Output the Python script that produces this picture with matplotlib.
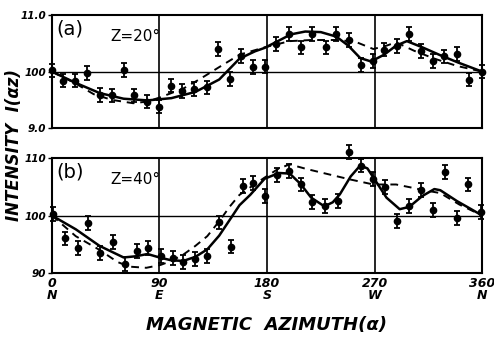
import matplotlib
matplotlib.use("Agg")
import matplotlib.pyplot as plt

# ---------------- data ----------------
# panel (a) Z = 20 deg : measured points
a_az = [0, 9.5, 19, 29.5, 40, 50, 60, 69, 80, 90, 100, 109, 119, 129.5, 139, 149, 158,
        168.5, 178, 187.5, 198.6, 208.4, 218, 229, 238, 249, 259, 269, 278, 288.5, 299,
        308.5, 318.6, 328, 339, 348.8, 359.5]
a_val = [100.2, 98.4, 98.4, 99.8, 95.9, 95.8, 100.3, 95.8, 94.7, 93.8, 97.5, 96.6, 96.9,
         97.2, 104.0, 98.7, 102.8, 100.8, 100.9, 104.9, 106.7, 104.3, 106.7, 104.3, 106.7,
         105.6, 101.2, 101.9, 103.9, 104.5, 106.7, 103.7, 101.9, 102.7, 103.1, 98.6, 100.0]
# panel (a) curves
a_sol_az = [0, 20, 40, 60, 80, 100, 120, 140, 157, 170, 178, 190, 200, 212, 225, 238,
            248, 258, 267, 278, 288, 297, 310, 325, 340, 360]
a_sol_val = [100, 98.0, 96.2, 95.2, 94.9, 95.3, 96.4, 98.6, 102.3, 103.6, 104.2, 105.5,
             106.6, 107.1, 107.0, 106.2, 104.6, 102.4, 101.8, 103.0, 104.6, 105.4, 104.3,
             102.9, 101.6, 100]
a_das_az = [0, 19, 35, 50, 68, 80, 90, 110, 124, 140, 157, 178, 199, 217, 240, 255, 269,
            280, 288, 303, 320, 339, 360]
a_das_val = [100, 98.0, 96.0, 95.0, 94.4, 94.7, 95.4, 97.0, 98.7, 100.8, 103.0, 104.3,
             105.4, 105.6, 105.6, 105.2, 104.0, 104.6, 105.2, 103.7, 102.3, 101.0, 100]

# panel (b) Z = 40 deg : measured points
b_az = [1, 11, 21.5, 30.4, 40, 51, 61, 71, 80.6, 91, 101, 110, 120, 130, 140, 149.6,
        159.6, 168.5, 178, 188.6, 198.6, 208.4, 218, 228.5, 239, 249, 258.5, 268.4, 278.7,
        288.5, 299, 308.6, 319, 329, 338.7, 348.4, 359]
b_val = [100.3, 96.0, 94.4, 98.7, 93.5, 95.4, 91.5, 93.8, 94.3, 92.9, 92.6, 91.9, 92.5,
         92.9, 98.8, 94.6, 105.2, 105.7, 103.4, 107.0, 107.7, 105.4, 102.3, 101.6, 102.5,
         111.0, 108.7, 106.4, 104.9, 99.0, 101.6, 104.5, 100.9, 107.6, 99.6, 105.4, 100.6]
# panel (b) curves
b_sol_az = [0, 20, 40, 60, 70, 80, 90, 100, 110, 120, 130, 140, 149, 157, 166, 178, 190,
            199, 208, 217, 228, 235, 241, 250, 258, 264, 270, 280, 291, 299, 310, 320, 325,
            339, 350, 360]
b_sol_val = [100, 97.6, 94.7, 92.7, 92.9, 93.3, 92.7, 92.2, 92.1, 92.8, 94.1, 96.5, 99.3,
             101.8, 103.6, 106.4, 107.4, 107.3, 105.5, 103.1, 101.6, 102.3, 103.7, 106.8,
             108.7, 108.2, 106.3, 103.1, 101.1, 101.5, 103.4, 104.6, 104.4, 102.5, 101.2, 100]
b_das_az = [0, 20, 40, 55, 65, 79, 91, 100, 110, 120, 130, 140, 149, 157, 166, 178, 190,
            199, 213, 227, 249, 269, 288, 300, 309, 325, 341, 350, 360]
b_das_val = [100, 96.4, 94.0, 91.9, 91.1, 90.9, 91.4, 92.1, 93.2, 94.7, 96.4, 99.0, 101.6,
             103.6, 104.9, 106.6, 108.2, 108.9, 108.1, 107.4, 106.3, 105.4, 105.4, 104.9,
             104.5, 103.9, 101.9, 101.0, 100]

err = 1.2
x_ticks = [0, 90, 180, 270, 360]
x_labels = ["0\nN", "90\nE", "180\nS", "270\nW", "360\nN"]
a_ylabels = ["9.0", "100", "11.0"]
b_ylabels = ["90", "100", "110"]
y_ticks = [90, 100, 110]

# ---------------- drawing ----------------
fig = plt.figure(figsize=(4.94, 3.37), dpi=100)
fig.patch.set_facecolor("white")
tfont = dict(family="DejaVu Sans", style="italic", weight="bold")

axa = fig.add_axes([0.105, 0.620, 0.871, 0.335])
axb = fig.add_axes([0.105, 0.190, 0.871, 0.341])

panels = [
    (axa, a_az, a_val, a_sol_az, a_sol_val, a_das_az, a_das_val, "(a)", "Z=20°", a_ylabels),
    (axb, b_az, b_val, b_sol_az, b_sol_val, b_das_az, b_das_val, "(b)", "Z=40°", b_ylabels),
]
for ax, px, py, sx, sy, dx, dy, tag, zlab, ylabs in panels:
    ax.set_xlim(0, 360)
    ax.set_ylim(90, 110)
    for v in (90, 180, 270):
        ax.axvline(v, color="black", lw=1.2, zorder=1)
    ax.axhline(100, color="black", lw=1.0, zorder=1)
    ax.plot(sx, sy, color="black", lw=1.8, zorder=3)
    ax.plot(dx, dy, color="black", lw=1.4, ls=(0, (4, 3)), zorder=3)
    ax.errorbar(px, py, yerr=err, fmt="o", color="black", ms=4.5, elinewidth=1.3,
                capsize=2, capthick=1.3, zorder=4, clip_on=False)
    for s in ax.spines.values():
        s.set_linewidth(1.5)
    ax.set_yticks(y_ticks)
    ax.set_yticklabels(ylabs, fontsize=7.5, **tfont)
    ax.tick_params(axis="y", length=3, width=1, pad=1)
    ax.text(0.01, 0.96, tag, transform=ax.transAxes, fontsize=14, ha="left", va="top",
            family="DejaVu Sans")
    ax.text(0.135, 0.81, zlab, transform=ax.transAxes, fontsize=11, ha="left",
            va="center", family="DejaVu Sans")

axa.set_xticks(x_ticks)
axa.set_xticklabels([])
axa.tick_params(axis="x", length=0)
axb.set_xticks(x_ticks)
axb.set_xticklabels(x_labels, fontsize=9, linespacing=0.85, **tfont)
axb.tick_params(axis="x", length=0, pad=3)

fig.text(0.54, 0.035, "MAGNETIC  AZIMUTH(α)", ha="center", va="center", fontsize=13,
         **tfont)
fig.text(0.028, 0.57, "INTENSITY  I(αz)", ha="center", va="center", rotation=90,
         fontsize=12, **tfont)

fig.savefig("out.png", dpi=100)
